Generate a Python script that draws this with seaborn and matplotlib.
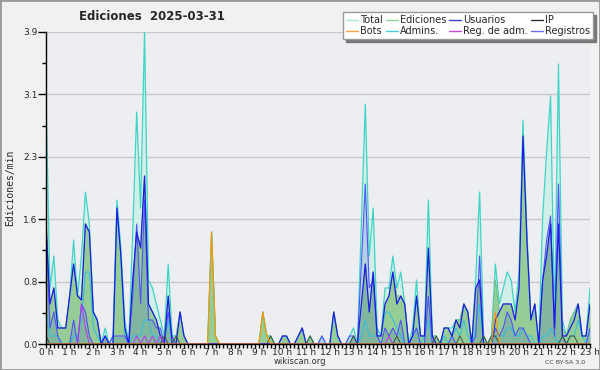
import numpy as np
import pandas as pd
import matplotlib
matplotlib.use("Agg")
import matplotlib.pyplot as plt
from matplotlib.lines import Line2D
from matplotlib.patches import Rectangle
from matplotlib.ticker import AutoMinorLocator, MultipleLocator
import seaborn as sns

# --------------------------------------------------------------------------
# Data: actions per minute, one value every 10 minutes (0 h .. 23 h)
# --------------------------------------------------------------------------
total = [
    3.1, 0.7, 1.1, 0.3, 0.2, 0.2,   # 0 h
    0.6, 1.3, 0.6, 1.1, 1.9, 1.5,   # 1 h
    0.4, 0.3, 0.0, 0.2, 0.0, 0.1,   # 2 h
    1.8, 1.2, 0.3, 0.0, 1.4, 2.9,   # 3 h
    1.7, 3.9, 0.8, 0.7, 0.5, 0.3,   # 4 h
    0.1, 1.0, 0.1, 0.1, 0.4, 0.1,   # 5 h
    0.0, 0.0, 0.0, 0.0, 0.0, 0.0,   # 6 h
    1.4, 0.1, 0.0, 0.0, 0.0, 0.0,   # 7 h
    0.0, 0.0, 0.0, 0.0, 0.0, 0.0,   # 8 h
    0.0, 0.4, 0.1, 0.1, 0.0, 0.0,   # 9 h
    0.1, 0.1, 0.0, 0.0, 0.1, 0.2,   # 10 h
    0.0, 0.1, 0.0, 0.0, 0.1, 0.0,   # 11 h
    0.0, 0.4, 0.1, 0.0, 0.0, 0.1,   # 12 h
    0.2, 0.0, 1.5, 3.0, 1.1, 1.7,   # 13 h
    0.2, 0.1, 0.7, 0.7, 1.1, 0.7,   # 14 h
    0.9, 0.5, 0.0, 0.2, 0.8, 0.1,   # 15 h
    0.1, 1.8, 0.1, 0.1, 0.0, 0.2,   # 16 h
    0.2, 0.2, 0.3, 0.3, 0.5, 0.4,   # 17 h
    0.0, 0.8, 1.9, 0.1, 0.0, 0.1,   # 18 h
    1.0, 0.5, 0.7, 0.9, 0.8, 0.4,   # 19 h
    0.9, 2.8, 1.4, 0.3, 0.5, 0.0,   # 20 h
    1.6, 2.4, 3.1, 0.3, 3.5, 0.3,   # 21 h
    0.1, 0.3, 0.4, 0.5, 0.1, 0.1,   # 22 h
    0.7,                            # 23 h
]

ediciones = [
    1.6, 0.5, 0.7, 0.2, 0.2, 0.2,
    0.6, 1.0, 0.6, 0.6, 1.5, 1.4,
    0.4, 0.3, 0.0, 0.1, 0.0, 0.0,
    1.7, 1.1, 0.2, 0.0, 0.8, 1.4,
    1.2, 2.1, 0.5, 0.4, 0.3, 0.1,
    0.1, 0.6, 0.0, 0.1, 0.4, 0.1,
    0.0, 0.0, 0.0, 0.0, 0.0, 0.0,
    1.4, 0.1, 0.0, 0.0, 0.0, 0.0,
    0.0, 0.0, 0.0, 0.0, 0.0, 0.0,
    0.0, 0.4, 0.1, 0.1, 0.0, 0.0,
    0.1, 0.1, 0.0, 0.0, 0.1, 0.2,
    0.0, 0.1, 0.0, 0.0, 0.0, 0.0,
    0.0, 0.4, 0.1, 0.0, 0.0, 0.0,
    0.1, 0.0, 0.5, 1.0, 0.4, 0.9,
    0.1, 0.1, 0.5, 0.6, 0.9, 0.6,
    0.6, 0.5, 0.0, 0.1, 0.6, 0.1,
    0.1, 1.2, 0.1, 0.1, 0.0, 0.2,
    0.2, 0.1, 0.3, 0.3, 0.5, 0.4,
    0.0, 0.7, 0.8, 0.1, 0.0, 0.1,
    0.8, 0.4, 0.5, 0.5, 0.5, 0.3,
    0.7, 2.6, 1.3, 0.3, 0.5, 0.0,
    0.8, 1.1, 1.5, 0.2, 1.5, 0.2,
    0.1, 0.3, 0.4, 0.5, 0.1, 0.1,
    0.5,
]

usuarios = [
    1.5, 0.5, 0.7, 0.2, 0.2, 0.2,
    0.6, 1.0, 0.6, 0.55, 1.5, 1.4,
    0.4, 0.3, 0.0, 0.1, 0.0, 0.0,
    1.7, 1.1, 0.2, 0.0, 0.8, 1.4,
    1.2, 2.1, 0.5, 0.4, 0.3, 0.1,
    0.0, 0.6, 0.0, 0.0, 0.4, 0.1,
    0.0, 0.0, 0.0, 0.0, 0.0, 0.0,
    0.0, 0.0, 0.0, 0.0, 0.0, 0.0,
    0.0, 0.0, 0.0, 0.0, 0.0, 0.0,
    0.0, 0.0, 0.0, 0.0, 0.0, 0.0,
    0.1, 0.1, 0.0, 0.0, 0.1, 0.2,
    0.0, 0.0, 0.0, 0.0, 0.0, 0.0,
    0.0, 0.4, 0.1, 0.0, 0.0, 0.0,
    0.0, 0.0, 0.5, 1.0, 0.4, 0.9,
    0.1, 0.1, 0.5, 0.6, 0.9, 0.5,
    0.6, 0.5, 0.0, 0.1, 0.6, 0.1,
    0.1, 1.2, 0.1, 0.0, 0.0, 0.2,
    0.2, 0.1, 0.3, 0.2, 0.5, 0.4,
    0.0, 0.7, 0.8, 0.0, 0.0, 0.0,
    0.3, 0.4, 0.5, 0.5, 0.5, 0.3,
    0.7, 2.6, 1.3, 0.3, 0.5, 0.0,
    0.8, 1.1, 1.5, 0.2, 1.5, 0.1,
    0.1, 0.2, 0.3, 0.5, 0.1, 0.1,
    0.5,
]

ip = [
    0.1, 0.0, 0.0, 0.0, 0.0, 0.0,
    0.0, 0.0, 0.0, 0.0, 0.0, 0.0,
    0.0, 0.0, 0.0, 0.0, 0.0, 0.0,
    0.0, 0.0, 0.0, 0.0, 0.0, 0.0,
    0.0, 0.0, 0.0, 0.0, 0.0, 0.0,
    0.1, 0.0, 0.0, 0.1, 0.0, 0.0,
    0.0, 0.0, 0.0, 0.0, 0.0, 0.0,
    0.0, 0.0, 0.0, 0.0, 0.0, 0.0,
    0.0, 0.0, 0.0, 0.0, 0.0, 0.0,
    0.0, 0.0, 0.0, 0.1, 0.0, 0.0,
    0.0, 0.0, 0.0, 0.0, 0.0, 0.0,
    0.0, 0.1, 0.0, 0.0, 0.0, 0.0,
    0.0, 0.0, 0.0, 0.0, 0.0, 0.0,
    0.1, 0.0, 0.0, 0.0, 0.0, 0.0,
    0.0, 0.0, 0.0, 0.0, 0.0, 0.1,
    0.0, 0.0, 0.0, 0.0, 0.0, 0.0,
    0.0, 0.0, 0.0, 0.1, 0.0, 0.0,
    0.0, 0.0, 0.0, 0.1, 0.0, 0.0,
    0.0, 0.0, 0.0, 0.1, 0.0, 0.1,
    0.1, 0.0, 0.0, 0.0, 0.0, 0.0,
    0.0, 0.0, 0.0, 0.0, 0.0, 0.0,
    0.0, 0.0, 0.0, 0.0, 0.0, 0.1,
    0.0, 0.1, 0.1, 0.0, 0.0, 0.0,
    0.0,
]

bots = [
    0.0, 0.0, 0.0, 0.0, 0.0, 0.0,
    0.0, 0.0, 0.0, 0.0, 0.0, 0.0,
    0.0, 0.0, 0.0, 0.0, 0.0, 0.0,
    0.0, 0.0, 0.0, 0.0, 0.0, 0.0,
    0.0, 0.0, 0.0, 0.0, 0.0, 0.0,
    0.0, 0.0, 0.0, 0.0, 0.0, 0.0,
    0.0, 0.0, 0.0, 0.0, 0.0, 0.0,
    1.4, 0.1, 0.0, 0.0, 0.0, 0.0,
    0.0, 0.0, 0.0, 0.0, 0.0, 0.0,
    0.0, 0.4, 0.1, 0.0, 0.0, 0.0,
    0.0, 0.0, 0.0, 0.0, 0.0, 0.0,
    0.0, 0.0, 0.0, 0.0, 0.0, 0.0,
    0.0, 0.0, 0.0, 0.0, 0.0, 0.0,
    0.0, 0.0, 0.0, 0.0, 0.0, 0.0,
    0.0, 0.0, 0.0, 0.0, 0.0, 0.0,
    0.0, 0.0, 0.0, 0.0, 0.0, 0.0,
    0.0, 0.0, 0.0, 0.0, 0.0, 0.0,
    0.0, 0.0, 0.0, 0.0, 0.0, 0.0,
    0.0, 0.0, 0.0, 0.0, 0.0, 0.0,
    0.4, 0.0, 0.0, 0.0, 0.0, 0.0,
    0.0, 0.0, 0.0, 0.0, 0.0, 0.0,
    0.0, 0.0, 0.0, 0.0, 0.0, 0.0,
    0.0, 0.0, 0.0, 0.0, 0.0, 0.0,
    0.0,
]

admins = [
    0.4, 0.1, 0.1, 0.1, 0.0, 0.0,
    0.0, 0.1, 0.1, 0.3, 0.9, 0.9,
    0.2, 0.1, 0.0, 0.0, 0.0, 0.0,
    1.7, 1.1, 0.1, 0.0, 0.1, 0.1,
    0.1, 0.3, 0.3, 0.1, 0.1, 0.0,
    0.0, 0.3, 0.0, 0.0, 0.0, 0.0,
    0.0, 0.0, 0.0, 0.0, 0.0, 0.0,
    0.0, 0.0, 0.0, 0.0, 0.0, 0.0,
    0.0, 0.0, 0.0, 0.0, 0.0, 0.0,
    0.0, 0.0, 0.0, 0.0, 0.0, 0.0,
    0.0, 0.0, 0.0, 0.0, 0.0, 0.0,
    0.0, 0.0, 0.0, 0.0, 0.0, 0.0,
    0.0, 0.0, 0.0, 0.0, 0.0, 0.0,
    0.1, 0.0, 0.1, 0.3, 0.1, 0.1,
    0.1, 0.1, 0.4, 0.4, 0.3, 0.2,
    0.1, 0.0, 0.0, 0.1, 0.2, 0.0,
    0.1, 0.3, 0.0, 0.0, 0.0, 0.1,
    0.0, 0.1, 0.2, 0.1, 0.3, 0.1,
    0.0, 0.2, 0.5, 0.0, 0.0, 0.0,
    0.1, 0.1, 0.1, 0.2, 0.2, 0.1,
    0.1, 0.2, 0.1, 0.1, 0.0, 0.0,
    0.1, 0.1, 0.2, 0.1, 0.0, 0.1,
    0.0, 0.1, 0.1, 0.3, 0.1, 0.0,
    0.2,
]

reg_adm = [
    0.0, 0.0, 0.0, 0.0, 0.0, 0.0,
    0.0, 0.0, 0.0, 0.5, 0.2, 0.0,
    0.0, 0.0, 0.0, 0.0, 0.0, 0.0,
    0.0, 0.0, 0.0, 0.0, 0.0, 0.1,
    0.0, 0.1, 0.0, 0.1, 0.0, 0.1,
    0.0, 0.0, 0.0, 0.0, 0.0, 0.0,
    0.0, 0.0, 0.0, 0.0, 0.0, 0.0,
    0.0, 0.0, 0.0, 0.0, 0.0, 0.0,
    0.0, 0.0, 0.0, 0.0, 0.0, 0.0,
    0.0, 0.0, 0.0, 0.0, 0.0, 0.0,
    0.0, 0.0, 0.0, 0.0, 0.0, 0.0,
    0.0, 0.0, 0.0, 0.0, 0.0, 0.0,
    0.0, 0.0, 0.0, 0.0, 0.0, 0.0,
    0.0, 0.0, 0.0, 0.0, 0.0, 0.0,
    0.0, 0.0, 0.0, 0.1, 0.0, 0.0,
    0.0, 0.0, 0.0, 0.0, 0.0, 0.0,
    0.0, 0.0, 0.0, 0.0, 0.0, 0.0,
    0.0, 0.0, 0.0, 0.0, 0.0, 0.0,
    0.0, 0.0, 0.0, 0.0, 0.0, 0.0,
    0.0, 0.0, 0.0, 0.0, 0.0, 0.0,
    0.0, 0.0, 0.0, 0.0, 0.0, 0.0,
    0.0, 0.0, 0.0, 0.0, 0.0, 0.0,
    0.0, 0.0, 0.0, 0.0, 0.0, 0.0,
    0.0,
]

registros = [
    1.5, 0.2, 0.4, 0.1, 0.0, 0.0,
    0.0, 0.3, 0.0, 0.5, 0.4, 0.1,
    0.0, 0.0, 0.0, 0.1, 0.0, 0.1,
    0.1, 0.1, 0.1, 0.0, 0.6, 1.5,
    0.5, 1.8, 0.3, 0.3, 0.2, 0.2,
    0.0, 0.4, 0.1, 0.0, 0.0, 0.0,
    0.0, 0.0, 0.0, 0.0, 0.0, 0.0,
    0.0, 0.0, 0.0, 0.0, 0.0, 0.0,
    0.0, 0.0, 0.0, 0.0, 0.0, 0.0,
    0.0, 0.0, 0.0, 0.0, 0.0, 0.0,
    0.0, 0.0, 0.0, 0.0, 0.0, 0.0,
    0.0, 0.0, 0.0, 0.0, 0.1, 0.0,
    0.0, 0.0, 0.0, 0.0, 0.0, 0.1,
    0.1, 0.0, 1.0, 2.0, 0.7, 0.8,
    0.1, 0.0, 0.2, 0.1, 0.2, 0.1,
    0.3, 0.0, 0.0, 0.1, 0.2, 0.0,
    0.0, 0.6, 0.0, 0.0, 0.0, 0.0,
    0.0, 0.1, 0.0, 0.0, 0.0, 0.0,
    0.0, 0.1, 1.1, 0.0, 0.0, 0.0,
    0.2, 0.1, 0.2, 0.4, 0.3, 0.1,
    0.2, 0.2, 0.1, 0.0, 0.0, 0.0,
    0.8, 1.3, 1.6, 0.1, 2.0, 0.1,
    0.0, 0.0, 0.0, 0.0, 0.0, 0.0,
    0.2,
]

hour_labels = [f"{h} h" for h in range(24)]
legend_labels = ["Total", "Ediciones", "Usuarios", "IP",
                 "Bots", "Admins.", "Reg. de adm.", "Registros"]
legend_colors = ["#a8e8e0", "#90d890", "#4040d0", "#303030",
                 "#ffa040", "#44ccdd", "#cc44dd", "#7070ee"]

# --------------------------------------------------------------------------
# Plot
# --------------------------------------------------------------------------
sns.set_theme(style="white")
plt.rcParams["font.family"] = ["DejaVu Sans"]

df = pd.DataFrame({
    "hora": np.arange(len(total)) / 6,
    "total": total, "ediciones": ediciones, "usuarios": usuarios,
    "ip": ip, "bots": bots, "admins": admins,
    "reg_adm": reg_adm, "registros": registros,
})

fig = plt.figure(figsize=(6, 3.7), dpi=100, facecolor="#f1f1f1")
ax = fig.add_axes([46 / 600, 26 / 370, 544 / 600, 312 / 370])
ax.set_facecolor("#eceef1")

# filled areas
ax.fill_between(df["hora"], df["total"], color="#d0efe9", lw=0, zorder=1)
ax.fill_between(df["hora"], df["ediciones"], color="#96cd96", lw=0, zorder=2)
ax.fill_between(df["hora"], df["registros"], color="#3a5cc8", alpha=0.2, lw=0, zorder=3)

# lines
lines = [
    ("total", "#3fd5c5", 0.9),
    ("ediciones", "#7dbd7d", 0.7),
    ("admins", "#2cc0e4", 0.7),
    ("registros", "#5252ff", 0.8),
    ("usuarios", "#1c1ce4", 0.9),
    ("ip", "#3a5040", 0.7),
    ("reg_adm", "#bb33ee", 0.7),
    ("bots", "#ff9500", 0.8),
]
for z, (col, color, lw) in enumerate(lines):
    sns.lineplot(data=df, x="hora", y=col, color=color, lw=lw,
                 ax=ax, legend=False, zorder=4 + z)

# axes
ax.set_xlim(0, 23)
ax.set_ylim(0, 3.9)
yt = np.linspace(0, 3.9, 6)
ax.set_yticks(yt)
ax.set_yticklabels([f"{v:.1f}" for v in yt])
ax.yaxis.set_minor_locator(AutoMinorLocator(2))
ax.set_xticks(range(24))
ax.set_xticklabels(hour_labels)
ax.xaxis.set_minor_locator(MultipleLocator(1 / 6))
ax.set_xlabel("")
ax.set_ylabel("")

ax.yaxis.grid(True, color="#c9c9c9", lw=1)
ax.set_axisbelow(True)
for s in ["top", "right"]:
    ax.spines[s].set_visible(False)
for s in ["left", "bottom"]:
    ax.spines[s].set_color("black")
    ax.spines[s].set_linewidth(1)
    ax.spines[s].set_zorder(20)

ax.tick_params(axis="x", which="major", direction="out", length=3, width=1,
               color="black", labelsize=6.5, pad=0, bottom=True)
ax.tick_params(axis="x", which="minor", direction="out", length=3, width=1,
               color="black", bottom=True)
ax.tick_params(axis="y", which="major", direction="out", length=6, width=1,
               color="black", labelsize=6.5, pad=0, left=True)
ax.tick_params(axis="y", which="minor", direction="out", length=3, width=1,
               color="black", left=True)

# texts
fig.text(152 / 600, 1 - 17 / 370, "Ediciones  2025-03-31", ha="center", va="center",
         fontsize=8.5, fontweight="bold")
fig.text(10 / 600, 1 - 188 / 370, "Ediciones/min", rotation=90, ha="center",
         va="center", fontsize=7, family="DejaVu Sans Mono")
fig.text(300 / 600, 1 - 362 / 370, "wikiscan.org", ha="center", va="center",
         fontsize=6, color="#333333")
fig.text(565 / 600, 1 - 363 / 370, "CC BY-SA 3.0", ha="center", va="center",
         fontsize=4.5, color="#444444")

# legend (column-major order)
order = [0, 4, 1, 5, 2, 6, 3, 7]
handles = [Line2D([], [], color=legend_colors[i], lw=1) for i in order]
labels = [legend_labels[i] for i in order]
fig.legend(handles, labels, ncol=4, loc="upper right",
           bbox_to_anchor=(593 / 600, 1 - 12 / 370), frameon=True, fancybox=False,
           shadow={"color": "#777777", "alpha": 1}, edgecolor="#999999",
           facecolor="white", framealpha=1, fontsize=7, handlelength=1.2,
           handletextpad=0.25, columnspacing=0.3, labelspacing=0.15,
           borderpad=0.3, borderaxespad=0)

fig.patches.append(Rectangle((0, 0), 1, 1, transform=fig.transFigure, fill=False,
                             edgecolor="#9a9a9a", lw=2))

fig.savefig("out.png", dpi=100)
